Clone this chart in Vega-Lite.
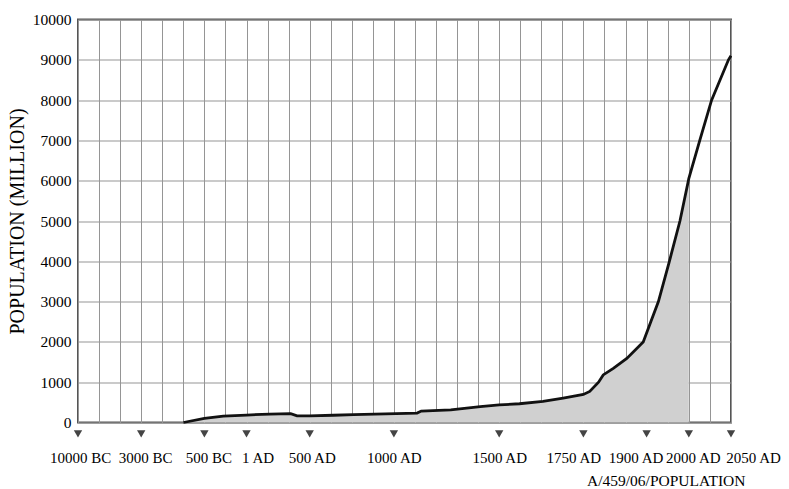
{
  "$schema": "https://vega.github.io/schema/vega-lite/v6.json",
  "width": 653,
  "height": 403,
  "autosize": {"type": "none"},
  "padding": {"left": 78, "top": 19.5, "right": 58, "bottom": 66.5},
  "background": "white",
  "config": {
    "font": "Liberation Serif",
    "view": {"stroke": "#555", "strokeWidth": 2}
  },
  "datasets": {
    "pop": [
      {"year": -1330, "population": 0},
      {"year": -500, "population": 100},
      {"year": -275, "population": 160},
      {"year": 1, "population": 185},
      {"year": 185, "population": 210},
      {"year": 350, "population": 220},
      {"year": 400, "population": 165},
      {"year": 500, "population": 165},
      {"year": 640, "population": 180},
      {"year": 760, "population": 195},
      {"year": 1010, "population": 220},
      {"year": 1110, "population": 235},
      {"year": 1130, "population": 285},
      {"year": 1270, "population": 315},
      {"year": 1410, "population": 395},
      {"year": 1500, "population": 435},
      {"year": 1560, "population": 465},
      {"year": 1630, "population": 525},
      {"year": 1690, "population": 605},
      {"year": 1750, "population": 695},
      {"year": 1765, "population": 770},
      {"year": 1786, "population": 1000},
      {"year": 1797, "population": 1180},
      {"year": 1821, "population": 1345},
      {"year": 1853, "population": 1590},
      {"year": 1892, "population": 2000},
      {"year": 1910, "population": 2500},
      {"year": 1928, "population": 3000},
      {"year": 1954, "population": 4000},
      {"year": 1979, "population": 5000},
      {"year": 2000, "population": 6050},
      {"year": 2013, "population": 7000},
      {"year": 2027, "population": 8000},
      {"year": 2047, "population": 9000},
      {"year": 2050, "population": 9100}
    ],
    "markers": [
      {"year": -10000, "level": -280}, {"year": -3000, "level": -280}, {"year": -500, "level": -280}, {"year": 1, "level": -280},
      {"year": 500, "level": -280}, {"year": 1000, "level": -280}, {"year": 1500, "level": -280}, {"year": 1750, "level": -280},
      {"year": 1900, "level": -280}, {"year": 2000, "level": -280}, {"year": 2050, "level": -280}
    ]
  },
  "data": {"name": "pop"},
  "encoding": {
    "x": {
      "field": "year",
      "type": "quantitative",
      "scale": {
        "domain": [-10000, -3000, -500, 1, 500, 1000, 1500, 1750, 1900, 2000, 2050],
        "range": [0, 63.2, 126.4, 168.5, 231.7, 315.9, 421.2, 505.4, 568.6, 610.8, 653],
        "nice": false,
        "zero": false
      },
      "axis": {
        "values": [-10000, -7666.67, -5333.33, -3000, -2166.67, -1333.33, -500, -249.5, 1, 167.33, 333.67, 500, 625, 750, 875, 1000, 1100, 1200, 1300, 1400, 1500, 1562.5, 1625, 1687.5, 1750, 1800, 1850, 1900, 1950, 2000, 2025, 2050],
        "grid": true,
        "gridColor": "#959595",
        "gridWidth": 1,
        "ticks": false,
        "domain": false,
        "labelExpr": "datum.value == -10000 ? '10000 BC' : datum.value == -3000 ? '3000 BC' : datum.value == -500 ? '500 BC' : datum.value == 1 ? '1 AD' : datum.value == 500 ? '500 AD' : datum.value == 1000 ? '1000 AD' : datum.value == 1500 ? '1500 AD' : datum.value == 1750 ? '1750 AD' : datum.value == 1900 ? '1900 AD' : datum.value == 2000 ? '2000 AD' : datum.value == 2050 ? '2050 AD' : ''",
        "labelOffset": {"expr": "datum.value == -10000 ? 2 : datum.value == -3000 ? 4 : datum.value == -500 ? 4 : datum.value == 1 ? 11 : datum.value == 500 ? 2 : datum.value == 1750 ? -10 : datum.value == 1900 ? -11 : datum.value == 2000 ? 4 : datum.value == 2050 ? 22 : 0"},
        "labelOverlap": false,
        "labelBound": false,
        "labelFlush": false,
        "labelFontSize": 15,
        "labelColor": "#000",
        "labelPadding": 40,
        "labelBaseline": "alphabetic",
        "title": "A/459/06/POPULATION",
        "titleFontSize": 15.5,
        "titleFontWeight": "normal",
        "titleColor": "#000",
        "titleX": 667,
        "titleY": 63,
        "titleAlign": "right",
        "titleBaseline": "alphabetic"
      }
    },
    "y": {
      "field": "population",
      "type": "quantitative",
      "scale": {"domain": [0, 10000], "nice": false},
      "axis": {
        "values": [0, 1000, 2000, 3000, 4000, 5000, 6000, 7000, 8000, 9000, 10000],
        "format": "d",
        "grid": true,
        "gridColor": "#959595",
        "gridWidth": 1,
        "ticks": false,
        "domain": false,
        "labelFontSize": 15.5,
        "labelColor": "#000",
        "labelPadding": 7,
        "title": "POPULATION (MILLION)",
        "titleFontSize": 20,
        "titleFontWeight": "normal",
        "titleColor": "#000",
        "titlePadding": 5
      }
    }
  },
  "layer": [
    {
      "transform": [{"filter": "datum.year <= 2000"}],
      "mark": {"type": "area", "color": "#d0d0d0", "opacity": 1}
    },
    {
      "mark": {"type": "line", "color": "#111", "strokeWidth": 2.8}
    },
    {
      "data": {"name": "markers"},
      "mark": {"type": "point", "shape": "triangle-down", "filled": true, "color": "#444", "size": 70, "opacity": 1, "clip": false},
      "encoding": {
        "y": {
          "field": "level",
          "type": "quantitative",
          "axis": {
            "values": [0, 1000, 2000, 3000, 4000, 5000, 6000, 7000, 8000, 9000, 10000],
            "format": "d",
            "grid": true,
            "gridColor": "#959595",
            "gridWidth": 1,
            "ticks": false,
            "domain": false,
            "labelFontSize": 15.5,
            "labelColor": "#000",
            "labelPadding": 7,
            "title": "POPULATION (MILLION)",
            "titleFontSize": 20,
            "titleFontWeight": "normal",
            "titleColor": "#000",
            "titlePadding": 5
          }
        }
      }
    }
  ]
}
